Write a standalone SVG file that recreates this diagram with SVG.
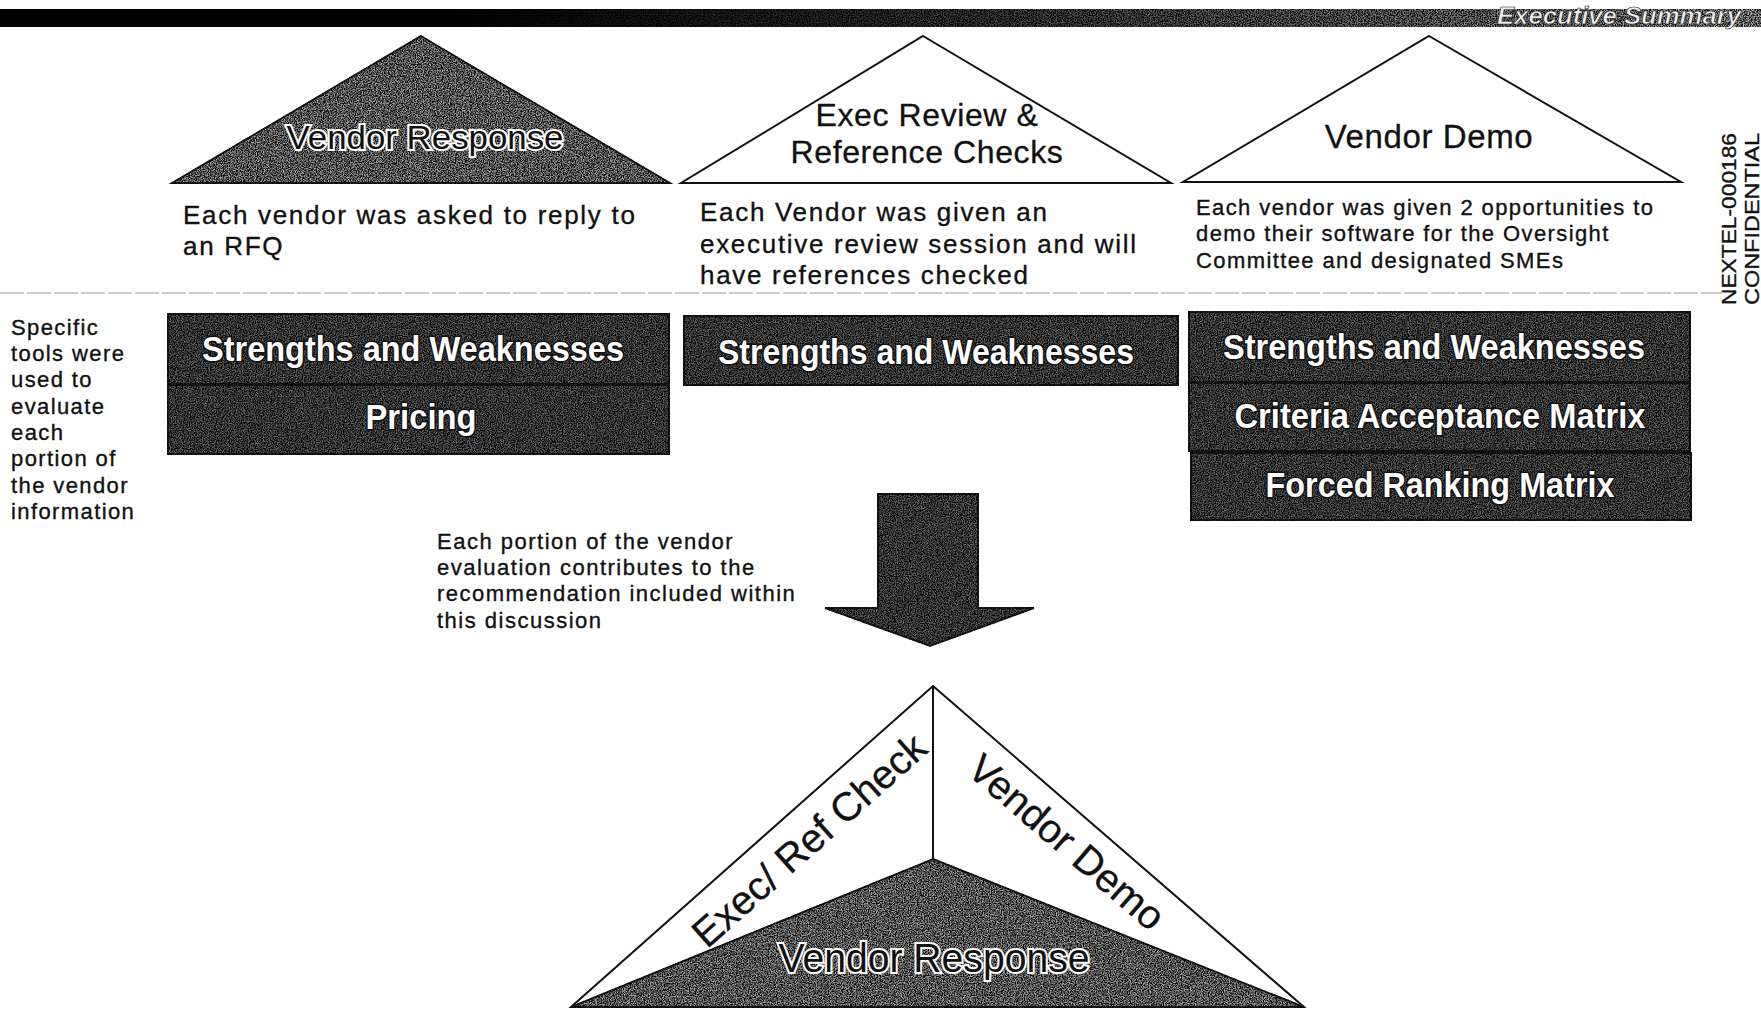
<svg xmlns="http://www.w3.org/2000/svg" width="1761" height="1011" viewBox="0 0 1761 1011">
<style>
  .txt { font-family: "Liberation Sans", Arial, sans-serif; fill: #111; stroke: #111; stroke-width: 0.35; }
  .desc { font-size: 26px; letter-spacing: 1.7px; }
  .desc3 { font-size: 22px; letter-spacing: 1.4px; }
  .side { font-size: 22px; letter-spacing: 1.4px; }
  .tri { fill: #fff; stroke: #111; stroke-width: 2; }
  .shade { fill: #505050; stroke: #111; stroke-width: 2; }
  .box { fill: #303030; stroke: #111; stroke-width: 2; }
  .boxlbl { font-family: "Liberation Sans", Arial, sans-serif; font-weight: bold; font-size: 35px; fill: #fff; stroke: #111; stroke-width: 3; paint-order: stroke; text-anchor: middle; }
  .halo { font-family: "Liberation Sans", Arial, sans-serif; fill: #111; stroke: #fff; stroke-width: 4; paint-order: stroke; text-anchor: middle; }
  .title { font-family: "Liberation Sans", Arial, sans-serif; fill: #111; stroke: #111; stroke-width: 0.3; text-anchor: middle; }
</style>
<defs>
  <filter id="speckle" x="-5%" y="-5%" width="110%" height="110%" color-interpolation-filters="sRGB">
    <feTurbulence type="fractalNoise" baseFrequency="0.85" numOctaves="2" seed="7" result="noise"/>
    <feColorMatrix in="noise" type="saturate" values="0" result="gray"/>
    <feComponentTransfer in="gray" result="contrast">
      <feFuncR type="linear" slope="3.6" intercept="-1.3"/>
      <feFuncG type="linear" slope="3.6" intercept="-1.3"/>
      <feFuncB type="linear" slope="3.6" intercept="-1.3"/>
      <feFuncA type="linear" slope="0" intercept="1"/>
    </feComponentTransfer>
    <feBlend in="contrast" in2="SourceGraphic" mode="overlay" result="mix"/>
    <feComposite in="mix" in2="SourceAlpha" operator="in"/>
  </filter>
  <linearGradient id="barGrad" x1="0" y1="0" x2="1" y2="0">
    <stop offset="0" stop-color="#000"/>
    <stop offset="0.25" stop-color="#000"/>
    <stop offset="0.55" stop-color="#222"/>
    <stop offset="1" stop-color="#5a5a5a"/>
  </linearGradient>
</defs>
<rect width="1761" height="1011" fill="#fff"/>

<g id="header">
  <rect x="0" y="9" width="1761" height="18" fill="url(#barGrad)" filter="url(#speckle)"/>
  <text x="1497" y="24" font-family="Liberation Sans, Arial, sans-serif" font-size="23" font-weight="bold" font-style="italic" fill="#eee" stroke="#222" stroke-width="0.6" textLength="244" lengthAdjust="spacingAndGlyphs">Executive Summary</text>
</g>

<g id="tri-vendor-response">
  <polygon class="shade" points="421,36 670,183 172,183" filter="url(#speckle)"/>
  <text class="halo" x="425" y="149" font-size="34" textLength="277" lengthAdjust="spacingAndGlyphs">Vendor Response</text>
</g>
<g id="tri-exec-review">
  <polygon class="tri" points="923,36 1171,183 681,183"/>
  <text class="title" x="927" y="126" font-size="32" letter-spacing="0.6">Exec Review &amp;</text>
  <text class="title" x="927" y="163" font-size="32" letter-spacing="0.6">Reference Checks</text>
</g>
<g id="tri-vendor-demo">
  <polygon class="tri" points="1429,36 1681,182 1183,182"/>
  <text class="title" x="1429" y="148" font-size="33" letter-spacing="0.6">Vendor Demo</text>
</g>

<g id="descriptions">
  <text class="txt desc" x="183" y="224">Each vendor was asked to reply to</text>
  <text class="txt desc" x="183" y="255">an RFQ</text>
  <text class="txt desc" x="700" y="221">Each Vendor was given an</text>
  <text class="txt desc" x="700" y="253">executive review session and will</text>
  <text class="txt desc" x="700" y="284">have references checked</text>
  <text class="txt desc3" x="1196" y="215">Each vendor was given 2 opportunities to</text>
  <text class="txt desc3" x="1196" y="241">demo their software for the Oversight</text>
  <text class="txt desc3" x="1196" y="268">Committee and designated SMEs</text>
</g>

<line id="divider" x1="0" y1="293" x2="1722" y2="293" stroke="#999" stroke-width="1.2" stroke-dasharray="24 3"/>

<g id="confidential">
  <text class="txt" transform="translate(1736,305) rotate(-90)" font-size="20" textLength="172" lengthAdjust="spacingAndGlyphs">NEXTEL-000186</text>
  <text class="txt" transform="translate(1759,305) rotate(-90)" font-size="20" textLength="172" lengthAdjust="spacingAndGlyphs">CONFIDENTIAL</text>
</g>

<g id="side-note">
  <text class="txt side" x="11" y="335">Specific</text>
  <text class="txt side" x="11" y="361">tools were</text>
  <text class="txt side" x="11" y="387">used to</text>
  <text class="txt side" x="11" y="414">evaluate</text>
  <text class="txt side" x="11" y="440">each</text>
  <text class="txt side" x="11" y="466">portion of</text>
  <text class="txt side" x="11" y="493">the vendor</text>
  <text class="txt side" x="11" y="519">information</text>
</g>

<g id="tools-vendor-response">
  <rect class="box" x="168" y="314" width="501" height="70" filter="url(#speckle)"/>
  <text class="boxlbl" x="413" y="361" textLength="422" lengthAdjust="spacingAndGlyphs">Strengths and Weaknesses</text>
  <rect class="box" x="168" y="385" width="501" height="69" filter="url(#speckle)"/>
  <text class="boxlbl" x="421" y="429" textLength="111" lengthAdjust="spacingAndGlyphs">Pricing</text>
</g>
<g id="tools-exec-review">
  <rect class="box" x="684" y="316" width="494" height="69" filter="url(#speckle)"/>
  <text class="boxlbl" x="926" y="364" textLength="416" lengthAdjust="spacingAndGlyphs">Strengths and Weaknesses</text>
</g>
<g id="tools-vendor-demo">
  <rect class="box" x="1189" y="312" width="501" height="70" filter="url(#speckle)"/>
  <text class="boxlbl" x="1434" y="359" textLength="422" lengthAdjust="spacingAndGlyphs">Strengths and Weaknesses</text>
  <rect class="box" x="1189" y="383" width="501" height="68" filter="url(#speckle)"/>
  <text class="boxlbl" x="1440" y="428" textLength="411" lengthAdjust="spacingAndGlyphs">Criteria Acceptance Matrix</text>
  <rect class="box" x="1191" y="453" width="500" height="67" filter="url(#speckle)"/>
  <text class="boxlbl" x="1440" y="497" textLength="349" lengthAdjust="spacingAndGlyphs">Forced Ranking Matrix</text>
</g>

<g id="connectors">
  <polygon points="878,494 978,494 978,608 1034,608 930,646 825,608 878,608" fill="#303030" stroke="#111" stroke-width="2" filter="url(#speckle)"/>
</g>

<g id="contribution-note">
  <text class="txt" x="437" y="549" font-size="22" letter-spacing="1.5">Each portion of the vendor</text>
  <text class="txt" x="437" y="575" font-size="22" letter-spacing="1.5">evaluation contributes to the</text>
  <text class="txt" x="437" y="601" font-size="22" letter-spacing="1.5">recommendation included within</text>
  <text class="txt" x="437" y="628" font-size="22" letter-spacing="1.5">this discussion</text>
</g>

<g id="summary-pyramid">
  <polygon class="tri" points="933,686 1304,1007 571,1007"/>
  <line x1="933" y1="686" x2="933" y2="859" stroke="#111" stroke-width="2"/>
  <polygon class="shade" points="933,859 1304,1007 571,1007" filter="url(#speckle)"/>
  <text class="title" x="809" y="840" dy="14" font-size="40" transform="rotate(-41.7 809 840)">Exec/ Ref Check</text>
  <text class="title" x="1067" y="842" dy="14" font-size="40" transform="rotate(40.8 1067 842)">Vendor Demo</text>
  <text class="halo" x="934" y="972" font-size="40" textLength="311" lengthAdjust="spacingAndGlyphs">Vendor Response</text>
</g>
</svg>
